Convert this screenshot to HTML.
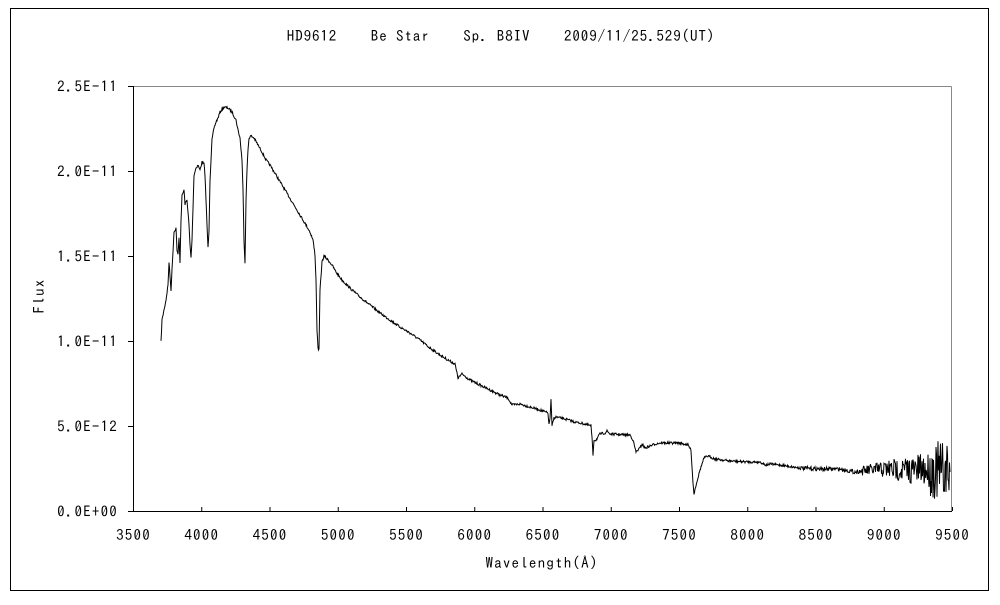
<!DOCTYPE html>
<html><head><meta charset="utf-8"><style>
html,body{margin:0;padding:0;background:#fff;}
svg text{font-family:"IPAGothic","Liberation Sans",sans-serif;font-size:15px;letter-spacing:1.2px;fill:#000;}
</style></head><body>
<svg id="s" width="1000" height="600" xmlns="http://www.w3.org/2000/svg">
<rect x="10.5" y="8.5" width="978" height="582" fill="#fff" stroke="#000" stroke-width="1"/>
<text x="501" y="41" text-anchor="middle" xml:space="preserve" style="letter-spacing:0.9px">HD9612    Be Star    Sp. B8IV    2009/11/25.529(UT)</text>
<line x1="133.5" y1="86.5" x2="951.5" y2="86.5" stroke="#888"/>
<line x1="951.5" y1="86.5" x2="951.5" y2="511.5" stroke="#888"/>
<line x1="133.5" y1="86" x2="133.5" y2="512" stroke="#000"/>
<line x1="133" y1="511.5" x2="952" y2="511.5" stroke="#000"/>
<g id="ticks" stroke="#000"></g>
<g id="labels"></g>
<text x="44" y="296" text-anchor="middle" transform="rotate(-90 44 296)">Flux</text>
<text x="542" y="568" text-anchor="middle">Wavelength(Å)</text>
<polyline id="p" fill="none" stroke="#000" stroke-width="1"/>
</svg>
<script>
var ns="http://www.w3.org/2000/svg",t=document.getElementById('ticks'),l=document.getElementById('labels');
function el(n,a,txt){var e=document.createElementNS(ns,n);for(var k in a)e.setAttribute(k,a[k]);if(txt)e.textContent=txt;return e;}
var yl=["0.0E+00","5.0E-12","1.0E-11","1.5E-11","2.0E-11","2.5E-11"];
for(var i=0;i<6;i++){var y=511.5-i*85;t.appendChild(el('line',{x1:128,y1:y,x2:133,y2:y}));l.appendChild(el('text',{x:118,y:y+5,'text-anchor':'end'},yl[i]));}
for(var i=0;i<=12;i++){var x=133.5+i*68.25;t.appendChild(el('line',{x1:x,y1:507,x2:x,y2:511}));l.appendChild(el('text',{x:x,y:540,'text-anchor':'middle'},String(3500+i*500)));}
var P=[[161,342],[162,320],[164,310],[166,300],[168,285],[169,262],[171,290],[172,270],[174,232],[176,228],[177,250],[178,255],[179,238],[180,262],[181,220],[182,196],[184,190],[185,204],[187,200],[188,212],[189,225],[190,245],[191,258],[192,240],[193,208],[194,175],[196,168],[198,165],[200,170],[202,162],[204,164],[205,175],[206,200],[207,225],[208,248],[209,230],[210,180],[212,140],[214,128],[216,122],[218,118],[220,112],[224,107],[228,108],[232,112],[236,120],[238,130],[240,138],[242,160],[243,190],[244,240],[245,263],[246,200],[247,170],[248,150],[249,138],[251,136],[254,138],[258,145],[262,152],[266,160],[270,165],[276,175],[282,185],[288,195],[294,205],[300,215],[306,225],[310,232],[313,240],[315,255],[316,280],[317,330],[318,348],[319,350],[320,290],[322,262],[324,256],[328,260],[332,265],[336,272],[342,280],[350,288],[360,297],[370,305],[380,313],[390,320],[400,327],[410,333],[420,340],[430,348],[440,355],[448,360],[455,364],[458,378],[462,374],[470,380],[480,385],[490,390],[500,395],[508,398],[512,405],[520,404],[530,407],[540,410],[548,413],[549,425],[550,418],[551,400],[552,426],[554,418],[556,417],[565,419],[575,422],[585,424],[591,426],[592,438],[593,455],[594,440],[596,440],[600,434],[605,433],[607,431],[610,434],[630,435],[633,440],[636,452],[640,448],[642,444],[645,448],[650,446],[655,444],[660,443],[680,443],[688,445],[691,450],[693,483],[694,494],[696,485],[700,470],[704,458],[708,456],[715,459],[730,461],[750,462],[760,462],[766,465],[770,464],[780,465],[800,468],[820,469],[840,469],[855,472],[870,470],[890,469],[910,470],[930,470],[950,472]];
var pts=[],seed=7;function r(){seed=(seed*16807)%2147483647;return seed/2147483647-0.5;}
for(var i=0;i<P.length-1;i++){var a=P[i],b=P[i+1],n=Math.max(1,Math.round((b[0]-a[0])*2));
for(var j=0;j<n;j++){var f=j/n,x=a[0]+(b[0]-a[0])*f,y=a[1]+(b[1]-a[1])*f;
var amp=x<150?0:(x>860?4+(x-860)*0.2:(x>800?2:1.2));if(x>930)amp+=10;y+=r()*2*amp;pts.push(x.toFixed(1)+","+y.toFixed(1));}}
pts.push("950,472");
document.getElementById('p').setAttribute('points',pts.join(" "));
</script>
</body></html>
